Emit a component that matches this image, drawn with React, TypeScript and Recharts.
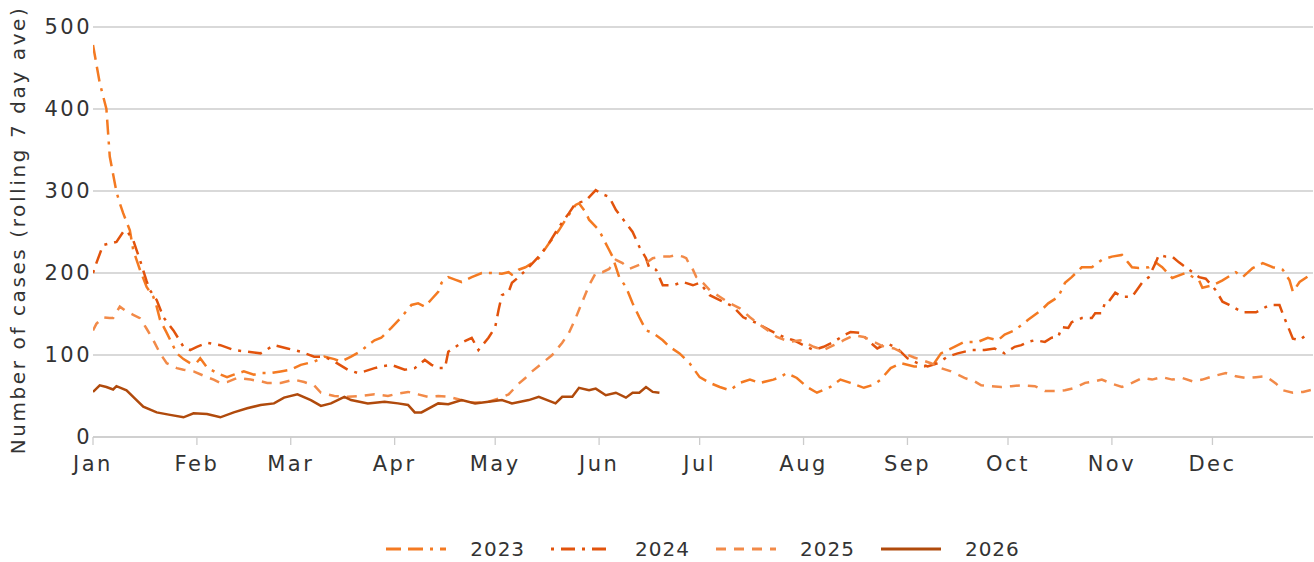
import React from 'react';
import { LineChart, Line, XAxis, YAxis, CartesianGrid, Legend } from 'recharts';

// ---------- data ----------
const monthStartDays = [0, 31, 59, 90, 120, 151, 181, 212, 243, 273, 304, 334];
const monthLabels = ['Jan', 'Feb', 'Mar', 'Apr', 'May', 'Jun', 'Jul', 'Aug', 'Sep', 'Oct', 'Nov', 'Dec'];
const yTicks = [0, 100, 200, 300, 400, 500];
const seriesNames = ['2023', '2024', '2025', '2026'];

const days2023 = [
  0, 1, 2, 4, 5, 7, 8, 9, 11, 12,
  13, 14, 16, 18, 19, 20, 22, 25, 27, 29,
  31, 32, 34, 37, 40, 42, 45, 48, 50, 53,
  56, 59, 62, 66, 69, 72, 74, 77, 80, 82,
  84, 86, 89, 92, 95, 97, 99, 101, 103, 104,
  106, 108, 110, 113, 116, 119, 122, 124, 125, 127,
  129, 131, 133, 136, 139, 141, 144, 145, 147, 148,
  151, 152, 154, 155, 157, 159, 161, 163, 165, 167,
  170, 172, 175, 178, 181, 184, 187, 190, 193, 196,
  199, 203, 205, 207, 210, 213, 216, 220, 223, 226,
  230, 233, 235, 238, 241, 245, 248, 251, 253, 257,
  260, 264, 267, 270, 272, 275, 279, 283, 285, 288,
  290, 292, 295, 298, 301, 304, 307, 309, 310, 312,
  315, 317, 319, 322, 326, 330, 331, 334, 337, 341,
  343, 346, 349, 352, 355, 357, 358, 360, 364,
];
const cases2023 = [
  478, 455, 432, 400, 342, 299, 285, 273, 252, 228,
  216, 204, 183, 171, 159, 143, 127, 102, 95, 90,
  91, 96, 85, 78, 73, 76, 80, 76, 78, 78,
  80, 82, 88, 92, 98, 95, 92, 98, 105, 112,
  118, 121, 133, 146, 161, 163, 159, 168, 177, 188,
  195, 192, 189, 195, 200, 200, 199, 201, 198, 204,
  207, 212, 218, 236, 252, 265, 283, 285, 274, 265,
  252, 244, 228, 220, 195, 183, 163, 146, 130, 127,
  118, 110, 102, 90, 73, 66, 61, 57, 66, 70,
  66, 70, 73, 78, 72, 61, 54, 61, 70, 66,
  60, 64, 70, 84, 90, 86, 86, 90, 102, 110,
  116, 116, 121, 118, 125, 130, 143, 155, 163, 171,
  188, 195, 207, 207, 216, 220, 222, 212, 207, 206,
  207, 213, 207, 194, 200, 191, 182, 185, 191, 201,
  195, 206, 212, 207, 204, 191, 177, 189, 200,
];

const days2024 = [
  0, 1, 3, 5, 7, 9, 10, 12, 13, 14,
  16, 17, 19, 21, 24, 27, 29, 31, 34, 38,
  42, 46, 50, 54, 58, 62, 66, 69, 72, 76,
  79, 81, 84, 86, 89, 93, 96, 99, 101, 103,
  105, 106, 110, 113, 115, 118, 120, 121, 122, 124,
  125, 127, 130, 133, 136, 139, 142, 144, 147, 150,
  152, 154, 156, 159, 161, 163, 165, 166, 168, 170,
  173, 176, 179, 181, 184, 187, 191, 194, 198, 202,
  206, 209, 212, 215, 218, 221, 224, 226, 229, 232,
  234, 237, 240, 243, 246, 249, 252, 255, 258, 262,
  266, 269, 272, 275, 277, 279, 281, 284, 286, 288,
  289, 291, 292, 295, 298, 299, 301, 302, 303, 305,
  307, 310, 313, 315, 317, 318, 320, 322, 324, 325,
  328, 330, 332, 335, 337, 339, 343, 347, 351, 354,
  355, 357, 358, 360, 363,
];
const cases2024 = [
  200, 212, 234, 236, 238, 250, 252, 240, 228, 216,
  190, 179, 167, 146, 130, 110, 106, 110, 115, 112,
  106, 104, 102, 112, 108, 104, 98, 98, 92, 82,
  78, 80, 84, 86, 88, 82, 84, 94, 88, 84,
  84, 104, 115, 121, 106, 121, 134, 155, 173, 177,
  188, 195, 207, 220, 236, 256, 273, 285, 288, 301,
  296, 293, 277, 261, 250, 232, 218, 206, 204, 185,
  185, 189, 185, 188, 173, 167, 159, 146, 139, 130,
  122, 118, 112, 106, 110, 116, 124, 128, 127, 115,
  108, 114, 108, 96, 90, 86, 90, 98, 102, 106,
  106, 108, 102, 110, 112, 116, 118, 116, 121, 122,
  134, 133, 140, 145, 145, 151, 151, 165, 165, 176,
  171, 171, 188, 195, 212, 222, 220, 220, 213, 210,
  201, 195, 193, 179, 165, 161, 152, 152, 161, 161,
  150, 130, 120, 118, 128,
];

const days2025 = [
  0, 1, 3, 5, 6, 8, 10, 12, 14, 16,
  18, 20, 22, 25, 27, 30, 34, 36, 38, 40,
  43, 47, 50, 52, 56, 60, 63, 66, 68, 72,
  76, 80, 84, 88, 91, 94, 97, 100, 103, 106,
  109, 112, 115, 118, 121, 124, 127, 129, 131, 134,
  137, 140, 142, 144, 146, 148, 150, 152, 154, 156,
  158, 160, 163, 165, 167, 170, 172, 174, 176, 177,
  178, 179, 180, 182, 184, 187, 190, 193, 196, 200,
  204, 208, 211, 215, 218, 221, 224, 227, 230, 233,
  236, 239, 242, 245, 250, 253, 256, 260, 263, 265,
  268, 271, 274, 277, 281, 284, 287, 290, 293, 296,
  299, 301, 304, 307, 310, 313, 316, 319, 322, 325,
  328, 331, 334, 338, 341, 344, 347, 350, 353, 355,
  358, 361, 364,
];
const cases2025 = [
  130, 138, 146, 145, 145, 159, 153, 149, 145, 132,
  118, 102, 90, 84, 82, 80, 73, 70, 66, 67,
  72, 70, 68, 66, 66, 70, 67, 63, 54, 50,
  49, 50, 52, 50, 53, 55, 52, 49, 50, 49,
  46, 42, 42, 43, 47, 52, 65, 72, 80, 90,
  100, 115, 127, 145, 165, 185, 200, 201, 205, 216,
  212, 205, 210, 212, 218, 220, 220, 222, 220, 218,
  210, 204, 195, 188, 179, 171, 163, 157, 146, 134,
  122, 116, 118, 110, 106, 112, 118, 124, 122, 116,
  110, 108, 102, 97, 90, 84, 80, 72, 68, 63,
  62, 61, 62, 63, 62, 56, 56, 57, 60, 66,
  68, 70, 65, 61, 66, 72, 70, 73, 70, 72,
  68, 70, 74, 78, 74, 72, 73, 74, 65, 57,
  54, 55, 58,
];

const days2026 = [
  0, 2, 4, 6, 7, 10, 12, 15, 19, 23,
  27, 30, 34, 38, 42, 46, 50, 54, 57, 61,
  65, 68, 71, 75, 77, 82, 87, 91, 94, 96,
  98, 103, 106, 110, 114, 118, 122, 125, 130, 133,
  138, 140, 143, 145, 148, 150, 153, 156, 159, 161,
  163, 165, 167, 169,
];
const cases2026 = [
  55, 63, 61, 58, 62, 57, 49, 37, 30, 27,
  24, 29, 28, 24, 30, 35, 39, 41, 48, 52,
  45, 38, 41, 49, 45, 41, 43, 41, 39, 30,
  30, 41, 40, 45, 41, 43, 45, 41, 45, 49,
  41, 49, 49, 60, 57, 59, 51, 54, 48, 54,
  54, 61, 55, 54,
];

// ---------- styling ----------
const FONT = '"DejaVu Sans", sans-serif';
const TEXT = '#333333';
const GRID = '#cccccc';
const STYLE: Record<string, { color: string; dash?: string; width: number }> = {
  '2023': { color: '#f47a22', dash: '15 7 15 7 3 7', width: 2.5 },
  '2024': { color: '#e2530c', dash: '3 7 14 7', width: 2.5 },
  '2025': { color: '#f28a48', dash: '10 8', width: 2.5 },
  '2026': { color: '#b04a0c', dash: undefined, width: 2.5 },
};

const toPoints = (days: number[], vals: number[]) => days.map((d, i) => ({ day: d, value: vals[i] }));
const seriesData: Record<string, { day: number; value: number }[]> = {
  '2023': toPoints(days2023, cases2023),
  '2024': toPoints(days2024, cases2024),
  '2025': toPoints(days2025, cases2025),
  '2026': toPoints(days2026, cases2026),
};

const renderLegend = () => (
  <div
    style={{
      display: 'flex',
      justifyContent: 'center',
      alignItems: 'center',
      fontFamily: FONT,
      fontSize: 20,
      color: TEXT,
      height: 28,
    }}
  >
    {seriesNames.map((name, i) => (
      <div key={name} style={{ display: 'flex', alignItems: 'center', marginRight: i < seriesNames.length - 1 ? 26 : 0 }}>
        <svg width={60} height={10}>
          <line
            x1={0}
            y1={5}
            x2={60}
            y2={5}
            stroke={STYLE[name].color}
            strokeWidth={3}
            strokeDasharray={STYLE[name].dash}
          />
        </svg>
        <span style={{ marginLeft: 24, letterSpacing: 1 }}>{name}</span>
      </div>
    ))}
  </div>
);

const YLabel = () => (
  <text
    x={18}
    y={230}
    transform="rotate(-90 18 230)"
    textAnchor="middle"
    dominantBaseline="central"
    fill={TEXT}
    fontSize={20}
    fontFamily={FONT}
    letterSpacing={2.6}
  >
    Number of cases (rolling 7 day ave)
  </text>
);

export default function App() {
  return (
    <div style={{ position: 'absolute', left: 0, top: 0, width: 1314, height: 562, background: '#fff' }}>
      <LineChart width={1314} height={562} margin={{ top: 27, right: 1, left: 0, bottom: 85 }}>
        <CartesianGrid horizontal={true} vertical={false} stroke={GRID} strokeWidth={1.3} />
        <XAxis
          dataKey="day"
          type="number"
          domain={[0, 364]}
          ticks={monthStartDays}
          tickFormatter={(v: number) => monthLabels[monthStartDays.indexOf(v)] ?? ''}
          interval={0}
          height={40}
          axisLine={{ stroke: GRID, strokeWidth: 1.3 }}
          tickLine={{ stroke: GRID, strokeWidth: 1.3 }}
          tickSize={8}
          tickMargin={11}
          tick={{ fill: TEXT, fontSize: 21, fontFamily: FONT, letterSpacing: 2.5 }}
          allowDataOverflow
        />
        <YAxis
          type="number"
          domain={[0, 500]}
          ticks={yTicks}
          interval={0}
          width={93}
          axisLine={false}
          tickLine={false}
          tickSize={0}
          tickMargin={1}
          tick={{ fill: TEXT, fontSize: 21, fontFamily: FONT, letterSpacing: 2.5 }}
          label={{ content: () => <YLabel /> }}
        />
        <Legend
          layout="horizontal"
          verticalAlign="middle"
          align="center"
          content={renderLegend}
          wrapperStyle={{ left: 93, top: 535, width: 1220, height: 28 }}
        />
        {seriesNames.map((name) => (
          <Line
            key={name}
            data={seriesData[name]}
            dataKey="value"
            name={name}
            type="linear"
            stroke={STYLE[name].color}
            strokeWidth={STYLE[name].width}
            strokeDasharray={STYLE[name].dash}
            dot={false}
            activeDot={false}
            isAnimationActive={false}
          />
        ))}
      </LineChart>
    </div>
  );
}
